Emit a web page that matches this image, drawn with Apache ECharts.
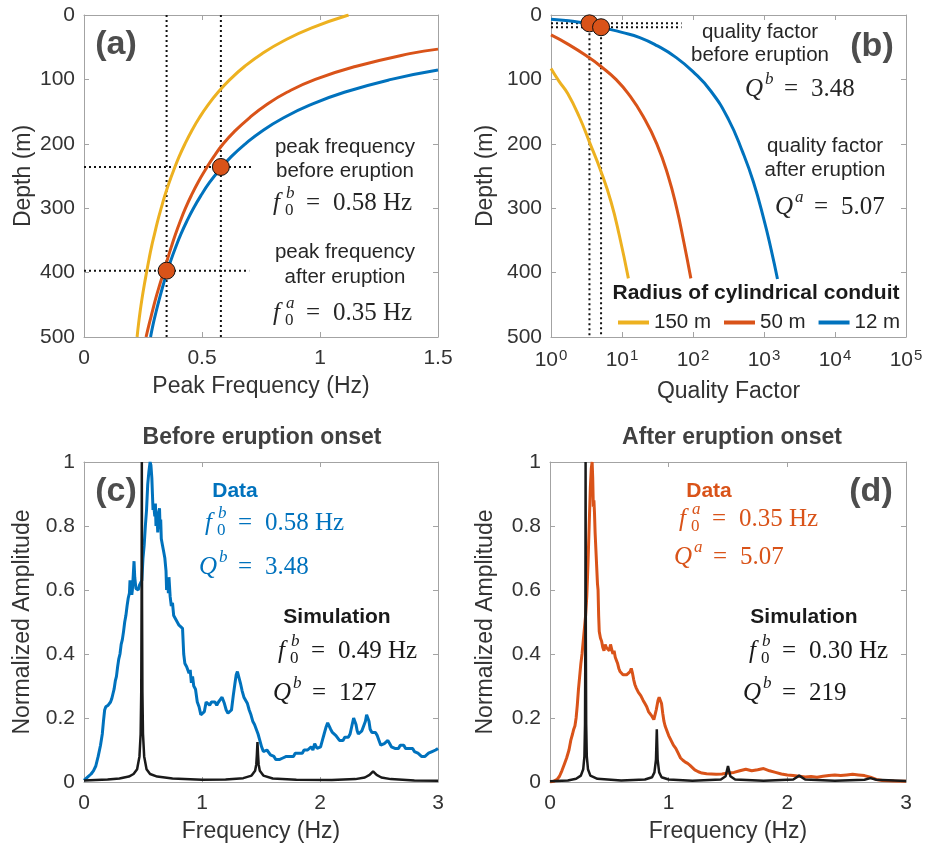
<!DOCTYPE html>
<html>
<head>
<meta charset="utf-8">
<script src="https://cdn.jsdelivr.net/npm/echarts/dist/echarts.min.js"></script>
<style>
  html, body { margin: 0; padding: 0; background: #fff; }
  #chart { width: 934px; height: 848px; }
</style>
</head>
<body>
<div id="chart"></div>
<script>
// ---------- (a) peak frequency vs. depth, [frequency Hz, depth m] ----------
const freqCurve150 = [[1.121,0],[0.965,20],[0.847,40],[0.754,60],[0.680,80],[0.619,100],[0.568,120],[0.525,140],[0.488,160],[0.456,180],[0.428,200],[0.403,220],[0.381,240],[0.361,260],[0.343,280],[0.327,300],[0.312,320],[0.299,340],[0.286,360],[0.275,380],[0.265,400],[0.255,420],[0.246,440],[0.238,460],[0.231,480],[0.225,500]];
const freqCurve50 = [[1.5,53],[1.38,60],[1.15,80],[0.98,100],[0.86,120],[0.77,140],[0.70,160],[0.64,180],[0.59,200],[0.55,220],[0.515,240],[0.483,260],[0.455,280],[0.43,300],[0.408,320],[0.388,340],[0.37,360],[0.353,380],[0.337,400],[0.32,420],[0.304,440],[0.29,460],[0.276,480],[0.263,500]];
const freqCurve12 = [[1.5,85.4],[1.302,100],[1.103,120],[0.956,140],[0.844,160],[0.755,180],[0.684,200],[0.624,220],[0.575,240],[0.532,260],[0.496,280],[0.464,300],[0.436,320],[0.411,340],[0.389,360],[0.369,380],[0.351,400],[0.335,420],[0.320,440],[0.306,460],[0.293,480],[0.282,500]];
const peakFreqs = [0.58, 0.35];          // before, after eruption (Hz)
const peakDepths = [236, 397];           // matching depths on the 12 m curve (m)
const peakGuideEnds = [0.72, 0.70];      // extent of the horizontal guides (Hz)

// ---------- (b) quality factor vs. depth, [Q, depth m] ----------
const qCurve150 = [[1,83],[1.3,103],[1.72,122],[2.5,158],[3.47,197],[5.06,243],[7,290],[9.16,342],[12.3,409]];
const qCurve50 = [[1,31],[1.78,46],[3.28,64.7],[5.06,80],[8.22,100],[12.6,124],[20,158],[30.9,200],[44.7,250],[58.9,300],[74.1,352],[93.3,409]];
const qCurve12 = [[1,6.5],[1.78,9],[3.48,14],[5.07,19],[10,27],[17.8,35],[31.6,48],[56.2,65],[100,88],[178,118],[316,162],[501,213],[708,259],[1000,318],[1259,364],[1549,410]];
const qValues = [3.48, 5.07];            // before, after eruption
const qDepths = [13, 19];
const qGuideEnd = 69;

// ---------- (c) spectra before eruption onset, [frequency Hz, amplitude] ----------
const dataBefore = [[0.00,0.005],[0.03,0.015],[0.06,0.025],[0.08,0.035],[0.10,0.05],[0.12,0.08],[0.14,0.115],[0.155,0.15],[0.165,0.19],[0.175,0.225],[0.185,0.235],[0.195,0.23],[0.205,0.24],[0.215,0.235],[0.225,0.25],[0.235,0.26],[0.245,0.275],[0.255,0.29],[0.265,0.315],[0.275,0.33],[0.285,0.36],[0.295,0.385],[0.305,0.40],[0.315,0.43],[0.325,0.445],[0.335,0.47],[0.345,0.50],[0.355,0.52],[0.365,0.55],[0.375,0.575],[0.385,0.59],[0.39,0.63],[0.395,0.60],[0.40,0.62],[0.405,0.585],[0.41,0.60],[0.418,0.65],[0.424,0.69],[0.43,0.64],[0.44,0.605],[0.45,0.61],[0.46,0.60],[0.47,0.615],[0.48,0.61],[0.49,0.63],[0.50,0.70],[0.51,0.74],[0.52,0.80],[0.53,0.85],[0.54,0.93],[0.55,0.97],[0.56,1.0],[0.567,0.99],[0.575,0.95],[0.58,0.90],[0.585,0.85],[0.59,0.87],[0.60,0.83],[0.605,0.87],[0.61,0.80],[0.62,0.82],[0.625,0.78],[0.63,0.84],[0.64,0.855],[0.645,0.79],[0.65,0.82],[0.655,0.76],[0.665,0.74],[0.675,0.72],[0.685,0.70],[0.695,0.66],[0.70,0.60],[0.71,0.64],[0.715,0.59],[0.72,0.64],[0.73,0.58],[0.74,0.55],[0.75,0.56],[0.76,0.52],[0.775,0.51],[0.79,0.50],[0.805,0.49],[0.82,0.49],[0.835,0.48],[0.845,0.40],[0.855,0.37],[0.87,0.36],[0.88,0.35],[0.89,0.34],[0.90,0.35],[0.91,0.31],[0.92,0.33],[0.93,0.30],[0.945,0.29],[0.96,0.25],[0.975,0.235],[0.99,0.21],[1.005,0.205],[1.02,0.22],[1.035,0.25],[1.05,0.255],[1.065,0.24],[1.08,0.25],[1.095,0.245],[1.11,0.25],[1.125,0.24],[1.14,0.25],[1.155,0.245],[1.17,0.265],[1.18,0.27],[1.19,0.245],[1.205,0.225],[1.22,0.215],[1.235,0.21],[1.25,0.225],[1.265,0.27],[1.28,0.31],[1.29,0.335],[1.30,0.345],[1.31,0.34],[1.325,0.31],[1.34,0.285],[1.355,0.265],[1.37,0.26],[1.385,0.245],[1.40,0.225],[1.415,0.21],[1.43,0.19],[1.445,0.18],[1.46,0.165],[1.475,0.15],[1.49,0.13],[1.505,0.11],[1.52,0.095],[1.535,0.09],[1.55,0.1],[1.565,0.095],[1.58,0.085],[1.595,0.09],[1.61,0.08],[1.625,0.07],[1.64,0.065],[1.655,0.07],[1.67,0.065],[1.685,0.075],[1.70,0.07],[1.715,0.08],[1.73,0.075],[1.745,0.08],[1.76,0.085],[1.775,0.08],[1.79,0.09],[1.805,0.085],[1.82,0.09],[1.835,0.095],[1.85,0.09],[1.865,0.1],[1.88,0.095],[1.895,0.1],[1.91,0.095],[1.925,0.11],[1.94,0.1],[1.955,0.12],[1.965,0.125],[1.975,0.105],[1.99,0.1],[2.005,0.11],[2.02,0.13],[2.035,0.15],[2.05,0.17],[2.065,0.185],[2.075,0.18],[2.09,0.165],[2.105,0.155],[2.12,0.16],[2.135,0.145],[2.15,0.14],[2.165,0.13],[2.18,0.135],[2.195,0.13],[2.21,0.14],[2.225,0.135],[2.24,0.14],[2.255,0.15],[2.27,0.175],[2.285,0.2],[2.295,0.205],[2.305,0.18],[2.315,0.16],[2.325,0.15],[2.34,0.155],[2.355,0.16],[2.37,0.155],[2.385,0.19],[2.395,0.21],[2.405,0.21],[2.415,0.19],[2.425,0.165],[2.44,0.155],[2.455,0.15],[2.47,0.155],[2.485,0.145],[2.50,0.13],[2.515,0.115],[2.53,0.11],[2.545,0.12],[2.56,0.125],[2.575,0.13],[2.59,0.12],[2.605,0.11],[2.62,0.115],[2.635,0.105],[2.65,0.11],[2.665,0.105],[2.68,0.115],[2.695,0.11],[2.71,0.115],[2.725,0.105],[2.74,0.11],[2.755,0.105],[2.77,0.1],[2.785,0.105],[2.80,0.095],[2.815,0.1],[2.83,0.09],[2.845,0.085],[2.86,0.08],[2.875,0.075],[2.89,0.08],[2.905,0.085],[2.92,0.09],[2.935,0.09],[2.95,0.095],[2.965,0.1],[2.98,0.1],[3.0,0.105]];
const simBefore = [[0,0.005],[0.2,0.008],[0.3,0.011],[0.38,0.017],[0.42,0.025],[0.45,0.04],[0.47,0.08],[0.48,0.15],[0.485,0.28],[0.488,0.55],[0.49,1.0],[0.492,0.55],[0.495,0.28],[0.5,0.15],[0.51,0.08],[0.53,0.04],[0.56,0.025],[0.62,0.017],[0.75,0.011],[1.0,0.007],[1.2,0.008],[1.35,0.012],[1.42,0.02],[1.45,0.035],[1.46,0.055],[1.465,0.085],[1.47,0.125],[1.475,0.085],[1.48,0.055],[1.49,0.035],[1.52,0.02],[1.6,0.011],[1.8,0.007],[2.1,0.006],[2.3,0.009],[2.38,0.014],[2.42,0.022],[2.45,0.033],[2.48,0.022],[2.52,0.014],[2.6,0.009],[2.8,0.005],[3.0,0.004]];

// ---------- (d) spectra after eruption onset ----------
const dataAfter = [[0.0,0.0],[0.03,0.002],[0.06,0.008],[0.08,0.018],[0.10,0.035],[0.12,0.055],[0.14,0.075],[0.16,0.1],[0.175,0.13],[0.19,0.15],[0.20,0.165],[0.21,0.175],[0.22,0.2],[0.23,0.24],[0.24,0.29],[0.25,0.33],[0.26,0.37],[0.27,0.40],[0.28,0.44],[0.29,0.48],[0.30,0.52],[0.31,0.58],[0.32,0.68],[0.33,0.80],[0.34,0.92],[0.348,0.98],[0.355,1.0],[0.36,0.95],[0.365,0.86],[0.37,0.88],[0.375,0.84],[0.38,0.78],[0.39,0.70],[0.40,0.62],[0.405,0.60],[0.41,0.52],[0.415,0.47],[0.425,0.45],[0.435,0.44],[0.445,0.42],[0.455,0.41],[0.465,0.43],[0.475,0.42],[0.49,0.425],[0.50,0.41],[0.51,0.43],[0.52,0.425],[0.53,0.40],[0.54,0.41],[0.55,0.39],[0.56,0.38],[0.57,0.37],[0.58,0.355],[0.59,0.345],[0.60,0.34],[0.615,0.335],[0.63,0.33],[0.645,0.335],[0.66,0.33],[0.675,0.345],[0.685,0.355],[0.695,0.34],[0.705,0.32],[0.715,0.305],[0.725,0.295],[0.735,0.29],[0.745,0.28],[0.755,0.285],[0.765,0.27],[0.775,0.265],[0.785,0.255],[0.80,0.245],[0.815,0.235],[0.83,0.22],[0.845,0.215],[0.86,0.205],[0.875,0.195],[0.885,0.21],[0.895,0.225],[0.91,0.255],[0.92,0.265],[0.93,0.26],[0.94,0.245],[0.95,0.215],[0.96,0.19],[0.97,0.175],[0.985,0.16],[1.00,0.145],[1.02,0.13],[1.04,0.115],[1.06,0.105],[1.08,0.09],[1.10,0.075],[1.12,0.068],[1.14,0.062],[1.16,0.058],[1.18,0.052],[1.20,0.045],[1.22,0.038],[1.25,0.032],[1.28,0.028],[1.32,0.026],[1.36,0.025],[1.40,0.024],[1.45,0.025],[1.50,0.028],[1.55,0.03],[1.60,0.035],[1.65,0.04],[1.70,0.035],[1.75,0.038],[1.80,0.042],[1.85,0.035],[1.90,0.03],[1.95,0.025],[2.00,0.022],[2.05,0.02],[2.10,0.018],[2.15,0.016],[2.20,0.017],[2.25,0.015],[2.30,0.018],[2.35,0.02],[2.40,0.022],[2.45,0.02],[2.50,0.022],[2.55,0.024],[2.60,0.022],[2.65,0.02],[2.70,0.015],[2.75,0.008],[2.80,0.005],[2.85,0.004],[2.90,0.003],[3.0,0.002]];
const simAfter = [[0,0.002],[0.15,0.005],[0.22,0.01],[0.26,0.02],[0.28,0.04],[0.29,0.08],[0.295,0.18],[0.298,0.45],[0.30,1.0],[0.302,0.45],[0.305,0.18],[0.31,0.08],[0.32,0.04],[0.34,0.02],[0.4,0.01],[0.6,0.005],[0.8,0.008],[0.86,0.015],[0.88,0.03],[0.893,0.07],[0.9,0.165],[0.907,0.07],[0.92,0.03],[0.94,0.015],[1.0,0.008],[1.2,0.004],[1.44,0.008],[1.48,0.018],[1.5,0.05],[1.52,0.018],[1.56,0.008],[1.8,0.004],[2.05,0.008],[2.1,0.02],[2.15,0.008],[2.4,0.004],[2.65,0.007],[2.7,0.012],[2.75,0.007],[3.0,0.003]];

// ---------- styling ----------
const SANS = '"Liberation Sans", Arial, Helvetica, sans-serif';
const SERIF = '"Liberation Serif", "Times New Roman", serif';
const BOX = '#a3a3a3';
const TXT = '#333333';
const YELLOW = '#EDB120', RED = '#D95319', BLUE = '#0072BD', BLACK = '#1a1a1a';
const TICK_FONT = 21, NAME_FONT = 23;

function tickLabel(margin) {
  return { color: TXT, fontSize: TICK_FONT, fontFamily: SANS, margin };
}
function axisBase(extra) {
  return Object.assign({
    axisLine: { show: true, onZero: false, lineStyle: { color: BOX, width: 1 } },
    axisTick: { show: true, inside: true, length: 5, lineStyle: { color: BOX } },
    axisLabel: tickLabel(9),
    splitLine: { show: false },
    nameLocation: 'middle',
    nameTextStyle: { color: TXT, fontSize: NAME_FONT, fontFamily: SANS }
  }, extra);
}
function mirror(extra) {
  return axisBase(Object.assign({ axisLabel: { show: false } }, extra));
}

const logLabel = {
  color: TXT, fontFamily: SANS, margin: 11,
  formatter: v => '{b|10}{s|' + Math.round(Math.log10(v)) + '}',
  rich: {
    b: { fontSize: TICK_FONT, fontFamily: SANS, color: TXT },
    s: { fontSize: 15, fontFamily: SANS, color: TXT, verticalAlign: 'top', padding: [0, 0, 9, 1] }
  }
};

const xAxis = [
  axisBase({ gridIndex: 0, type: 'value', min: 0, max: 1.5, interval: 0.5, name: 'Peak Frequency (Hz)', nameGap: 38, axisLabel: tickLabel(11) }),
  mirror({ gridIndex: 0, type: 'value', position: 'top', min: 0, max: 1.5, interval: 0.5 }),
  axisBase({ gridIndex: 1, type: 'log', logBase: 10, min: 1, max: 100000, name: 'Quality Factor', nameGap: 43, axisLabel: logLabel }),
  mirror({ gridIndex: 1, type: 'log', logBase: 10, position: 'top', min: 1, max: 100000 }),
  axisBase({ gridIndex: 2, type: 'value', min: 0, max: 3, interval: 1, name: 'Frequency (Hz)', nameGap: 38, axisLabel: tickLabel(11) }),
  mirror({ gridIndex: 2, type: 'value', position: 'top', min: 0, max: 3, interval: 1 }),
  axisBase({ gridIndex: 3, type: 'value', min: 0, max: 3, interval: 1, name: 'Frequency (Hz)', nameGap: 38, axisLabel: tickLabel(11) }),
  mirror({ gridIndex: 3, type: 'value', position: 'top', min: 0, max: 3, interval: 1 })
];
const yAxis = [
  axisBase({ gridIndex: 0, type: 'value', inverse: true, min: 0, max: 500, interval: 100, name: 'Depth (m)', nameGap: 49 }),
  mirror({ gridIndex: 0, type: 'value', position: 'right', inverse: true, min: 0, max: 500, interval: 100 }),
  axisBase({ gridIndex: 1, type: 'value', inverse: true, min: 0, max: 500, interval: 100, name: 'Depth (m)', nameGap: 54 }),
  mirror({ gridIndex: 1, type: 'value', position: 'right', inverse: true, min: 0, max: 500, interval: 100 }),
  axisBase({ gridIndex: 2, type: 'value', min: 0, max: 1, interval: 0.2, name: 'Normalized Amplitude', nameGap: 50 }),
  mirror({ gridIndex: 2, type: 'value', position: 'right', min: 0, max: 1, interval: 0.2 }),
  axisBase({ gridIndex: 3, type: 'value', min: 0, max: 1, interval: 0.2, name: 'Normalized Amplitude', nameGap: 53 }),
  mirror({ gridIndex: 3, type: 'value', position: 'right', min: 0, max: 1, interval: 0.2 })
];

function curve(name, data, color, xi, yi, extra) {
  return Object.assign({
    name, type: 'line', data, xAxisIndex: xi, yAxisIndex: yi,
    showSymbol: false, symbol: 'none', silent: true, animation: false,
    lineStyle: { color, width: 3 }, itemStyle: { color }
  }, extra || {});
}
function dotted(data, xi, yi) {
  return {
    type: 'line', data, xAxisIndex: xi, yAxisIndex: yi, showSymbol: false, symbol: 'none',
    silent: true, animation: false, z: 3,
    lineStyle: { color: '#111', width: 2, type: [2, 3] }
  };
}
function dots(data, xi, yi) {
  return {
    type: 'scatter', data, xAxisIndex: xi, yAxisIndex: yi, symbolSize: 17, silent: true,
    animation: false, z: 5,
    itemStyle: { color: RED, borderColor: '#111', borderWidth: 1, opacity: 1 }
  };
}

const series = [
  // (a)
  dotted([[peakFreqs[0], 0], [peakFreqs[0], 500]], 0, 0),
  dotted([[peakFreqs[1], 0], [peakFreqs[1], 500]], 0, 0),
  dotted([[0, peakDepths[0]], [peakGuideEnds[0], peakDepths[0]]], 0, 0),
  dotted([[0, peakDepths[1]], [peakGuideEnds[1], peakDepths[1]]], 0, 0),
  curve('150 m', freqCurve150, YELLOW, 0, 0, { smooth: true }),
  curve('50 m', freqCurve50, RED, 0, 0, { smooth: true }),
  curve('12 m', freqCurve12, BLUE, 0, 0, { smooth: true }),
  dots(peakFreqs.map((f, i) => [f, peakDepths[i]]), 0, 0),
  // (b)
  dotted([[qValues[0], qDepths[0]], [qValues[0], 500]], 2, 2),
  dotted([[qValues[1], qDepths[1]], [qValues[1], 500]], 2, 2),
  dotted([[1, qDepths[0]], [qGuideEnd, qDepths[0]]], 2, 2),
  dotted([[1, qDepths[1]], [qGuideEnd, qDepths[1]]], 2, 2),
  curve('150 m', qCurve150, YELLOW, 2, 2, { smooth: true }),
  curve('50 m', qCurve50, RED, 2, 2, { smooth: true }),
  curve('12 m', qCurve12, BLUE, 2, 2, { smooth: true }),
  dots(qValues.map((q, i) => [q, qDepths[i]]), 2, 2),
  // (c)
  curve('Data (before)', dataBefore, BLUE, 4, 4),
  curve('Simulation (before)', simBefore, BLACK, 4, 4, { lineStyle: { color: BLACK, width: 2.5 } }),
  // (d)
  curve('Data (after)', dataAfter, RED, 6, 6),
  curve('Simulation (after)', simAfter, BLACK, 6, 6, { lineStyle: { color: BLACK, width: 2.5 } })
];

// ---------- text annotations ----------
function txt(x, y, text, opts) {
  opts = opts || {};
  const align = opts.align || 'center';
  return {
    type: 'text', x, y, z: 100, silent: true,
    style: {
      text, fill: opts.color || '#262626',
      font: (opts.font || '20.5px ' + SANS),
      align, textAlign: align, verticalAlign: 'middle', textVerticalAlign: 'middle'
    }
  };
}
// symbol with super/subscript, then "= value"
function mathLabel(x, y, sym, sup, sub, value, color) {
  const isQ = sym === 'Q';
  const sw = isQ ? 20 : 13;
  const els = [
    txt(x, y, sym, { align: 'left', color, font: 'italic 25px ' + SERIF }),
    txt(x + sw, y - 9, sup, { align: 'left', color, font: 'italic 17px ' + SERIF }),
    txt(x + (isQ ? 39 : 33), y, '=', { align: 'left', color, font: '25px ' + SERIF }),
    txt(x + (isQ ? 66 : 60), y, value, { align: 'left', color, font: '25px ' + SERIF })
  ];
  if (sub) els.push(txt(x + sw - 1, y + 8, sub, { align: 'left', color, font: '17px ' + SERIF }));
  return els;
}

const PANEL = 'bold 34px ' + SANS;
const BOLD = 'bold 21px ' + SANS;
const graphic = [].concat(
  [
    txt(116, 45, '(a)', { font: PANEL, color: '#4d4d4d' }),
    txt(345, 147, 'peak frequency'), txt(345, 171, 'before eruption'),
    txt(345, 252, 'peak frequency'), txt(345, 277, 'after eruption'),
    txt(872, 47, '(b)', { font: PANEL, color: '#4d4d4d' }),
    txt(760, 32, 'quality factor'), txt(760, 55, 'before eruption'),
    txt(825, 146, 'quality factor'), txt(825, 170, 'after eruption'),
    txt(756, 293, 'Radius of cylindrical conduit', { font: BOLD, color: '#1a1a1a' }),
    txt(262, 438, 'Before eruption onset', { font: 'bold 23px ' + SANS, color: '#404040' }),
    txt(732, 438, 'After eruption onset', { font: 'bold 23px ' + SANS, color: '#404040' }),
    txt(116, 492, '(c)', { font: PANEL, color: '#4d4d4d' }),
    txt(871, 492, '(d)', { font: PANEL, color: '#4d4d4d' }),
    txt(235, 491, 'Data', { font: BOLD, color: BLUE }),
    txt(337, 617, 'Simulation', { font: BOLD, color: '#1a1a1a' }),
    txt(709, 491, 'Data', { font: BOLD, color: RED }),
    txt(804, 617, 'Simulation', { font: BOLD, color: '#1a1a1a' })
  ],
  mathLabel(273, 203, 'f', 'b', '0', '0.58 Hz', '#262626'),
  mathLabel(273, 313, 'f', 'a', '0', '0.35 Hz', '#262626'),
  mathLabel(745, 89, 'Q', 'b', null, '3.48', '#262626'),
  mathLabel(775, 207, 'Q', 'a', null, '5.07', '#262626'),
  mathLabel(205, 523, 'f', 'b', '0', '0.58 Hz', BLUE),
  mathLabel(199, 567, 'Q', 'b', null, '3.48', BLUE),
  mathLabel(278, 651, 'f', 'b', '0', '0.49 Hz', '#1a1a1a'),
  mathLabel(273, 693, 'Q', 'b', null, '127', '#1a1a1a'),
  mathLabel(679, 519, 'f', 'a', '0', '0.35 Hz', RED),
  mathLabel(674, 557, 'Q', 'a', null, '5.07', RED),
  mathLabel(749, 651, 'f', 'b', '0', '0.30 Hz', '#1a1a1a'),
  mathLabel(743, 693, 'Q', 'b', null, '219', '#1a1a1a')
);

const option = {
  backgroundColor: '#fff',
  animation: false,
  grid: [
    { left: 84, top: 15, width: 354, height: 322 },
    { left: 551, top: 15, width: 355, height: 322 },
    { left: 84, top: 462, width: 354, height: 320 },
    { left: 550, top: 462, width: 356, height: 320 }
  ],
  legend: {
    data: ['150 m', '50 m', '12 m'],
    left: 618, top: 312, padding: 0, orient: 'horizontal',
    icon: 'rect', itemWidth: 31, itemHeight: 4, itemGap: 13,
    selectedMode: false,
    textStyle: { color: '#262626', fontSize: 20.5, fontFamily: SANS }
  },
  xAxis, yAxis, series, graphic
};

const chart = echarts.init(document.getElementById('chart'));
chart.setOption(option);
</script>
</body>
</html>
